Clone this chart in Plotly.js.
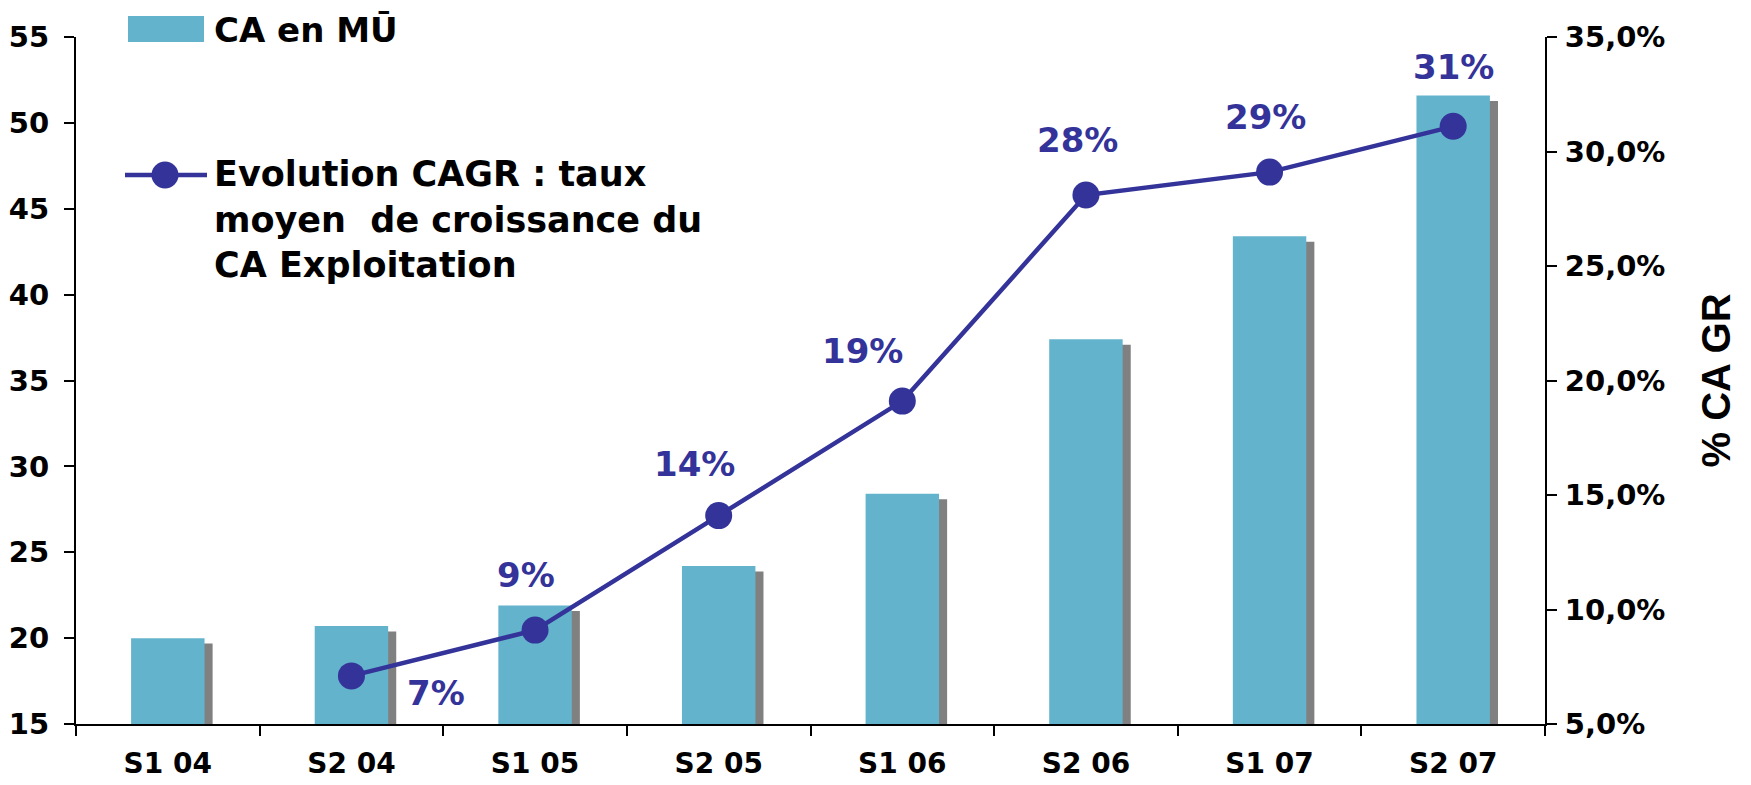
<!DOCTYPE html>
<html>
<head>
<meta charset="utf-8">
<script src="https://cdn.plot.ly/plotly-3.0.1.min.js"></script>
<style>
  html, body { margin: 0; padding: 0; background: #fff; }
  #graphDiv { width: 1751px; height: 785px; }
</style>
</head>
<body>
<div id="graphDiv"></div>
<script>
var periods = ['S1 04', 'S2 04', 'S1 05', 'S2 05', 'S1 06', 'S2 06', 'S1 07', 'S2 07'];
var caValues = [20.0, 20.7, 21.9, 24.2, 28.4, 37.4, 43.4, 51.6];
var cagrValues = [null, 7.1, 9.1, 14.1, 19.1, 28.1, 29.1, 31.1];
var cagrLabels = ['', '7%', '9%', '14%', '19%', '28%', '29%', '31%'];

var barColor = '#64B3CC';
var lineColor = '#333399';
var tickFont = {family: 'DejaVu Sans', size: 29, color: '#000', weight: 'bold'};

// plot area in pixels, used to place the hand-made legend
var L = 76, R = 1545, T = 37, B = 724;
function px(x) { return (x - L) / (R - L); }
function py(y) { return (B - y) / (B - T); }

// grey drop shadow behind each bar
var shadow = {
    x: periods,
    y: caValues.map(function (v) { return v - 0.32; }),
    type: 'bar',
    width: 0.4,
    offset: -0.156,
    marker: {color: '#808080', line: {width: 0}},
    hoverinfo: 'skip',
    showlegend: false
};

var bars = {
    x: periods,
    y: caValues,
    name: 'CA en MŪ',
    type: 'bar',
    width: 0.4,
    offset: -0.2,
    marker: {color: barColor, line: {width: 0}},
    showlegend: false
};

var cagr = {
    x: periods,
    y: cagrValues,
    name: 'Evolution CAGR',
    type: 'scatter',
    mode: 'lines+markers',
    yaxis: 'y2',
    line: {color: lineColor, width: 4.5},
    marker: {color: lineColor, size: 27},
    connectgaps: false,
    cliponaxis: false,
    showlegend: false
};

// label offsets in pixels from each point
var labelDx = [0, 85, -9, -24, -40, -8, -4, 0];
var labelDy = [0, -17, 55, 52, 50, 55, 55, 59];

var annotations = [];
for (var i = 0; i < periods.length; i++) {
    if (cagrValues[i] === null) continue;
    annotations.push({
        x: periods[i], y: cagrValues[i], xref: 'x', yref: 'y2',
        text: cagrLabels[i], showarrow: false,
        xshift: labelDx[i], yshift: labelDy[i],
        font: {family: 'DejaVu Sans', size: 34, color: lineColor, weight: 'bold'}
    });
}

annotations.push({
    x: px(212), y: py(30), xref: 'paper', yref: 'paper',
    xanchor: 'left', yanchor: 'middle', showarrow: false,
    text: 'CA en MŪ',
    font: {family: 'DejaVu Sans', size: 34, color: '#000', weight: 'bold'}
});
annotations.push({
    x: px(212), y: py(219), xref: 'paper', yref: 'paper',
    xanchor: 'left', yanchor: 'middle', align: 'left', showarrow: false,
    text: 'Evolution CAGR : taux<br>moyen  de croissance du<br>CA Exploitation',
    font: {family: 'DejaVu Sans', size: 35, color: '#000', weight: 'bold'}
});

var shapes = [
    {type: 'rect', xref: 'paper', yref: 'paper',
     x0: px(128), x1: px(204), y0: py(42), y1: py(16),
     fillcolor: barColor, line: {width: 0}},
    {type: 'line', xref: 'paper', yref: 'paper',
     x0: px(125), x1: px(207), y0: py(175), y1: py(175),
     line: {color: lineColor, width: 4.5}},
    {type: 'circle', xref: 'paper', yref: 'paper',
     x0: px(151.5), x1: px(178.5), y0: py(188.5), y1: py(161.5),
     fillcolor: lineColor, line: {width: 0}}
];

var layout = {
    width: 1751,
    height: 785,
    margin: {l: L, r: 1751 - R, t: T, b: 785 - B},
    paper_bgcolor: '#fff',
    plot_bgcolor: '#fff',
    barmode: 'overlay',
    separators: ', ',
    showlegend: false,
    xaxis: {
        type: 'category',
        range: [-0.5, 7.5],
        showline: true, linecolor: '#000', linewidth: 2,
        ticks: 'outside', tickson: 'boundaries', ticklen: 10, tickwidth: 2, tickcolor: '#000',
        ticklabelstandoff: 13,
        showgrid: false, zeroline: false,
        tickfont: {family: 'DejaVu Sans', size: 28, color: '#000', weight: 'bold'}
    },
    yaxis: {
        range: [15, 55], dtick: 5,
        showline: true, linecolor: '#000', linewidth: 2,
        ticks: 'outside', ticklen: 10, tickwidth: 2, tickcolor: '#000',
        ticklabelstandoff: 9,
        showgrid: false, zeroline: false,
        tickfont: tickFont
    },
    yaxis2: {
        overlaying: 'y', side: 'right',
        range: [5, 35], dtick: 5,
        tickformat: '.1f', ticksuffix: '%',
        showline: true, linecolor: '#000', linewidth: 2,
        ticks: 'outside', ticklen: 10, tickwidth: 2, tickcolor: '#000',
        ticklabelstandoff: 2,
        showgrid: false, zeroline: false,
        tickfont: tickFont,
        title: {
            text: '% CA GR', standoff: 38,
            font: {family: 'Liberation Sans', size: 40, color: '#000', weight: 'bold'}
        }
    },
    annotations: annotations,
    shapes: shapes
};

Plotly.newPlot('graphDiv', [shadow, bars, cagr], layout, {displayModeBar: false, staticPlot: true});
</script>
</body>
</html>
